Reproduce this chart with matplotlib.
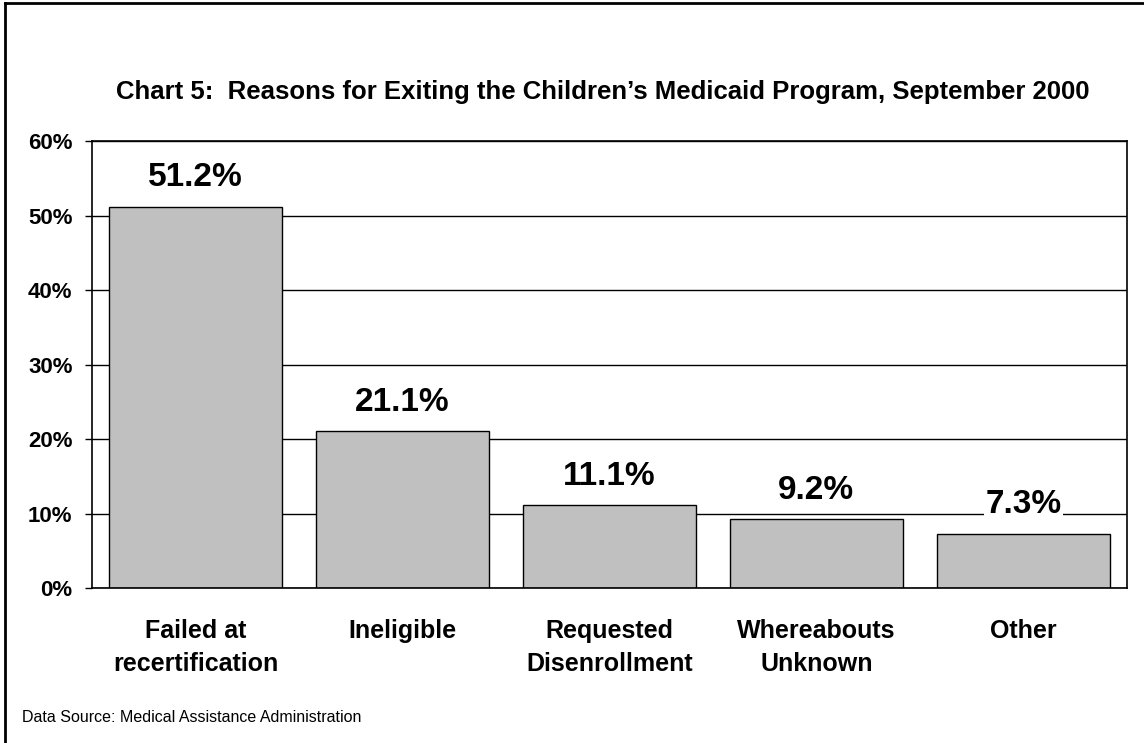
import matplotlib
matplotlib.use("Agg")
import matplotlib.pyplot as plt
from matplotlib.lines import Line2D
import numpy as np

plt.rcParams['font.family'] = ['Liberation Sans', 'DejaVu Sans']

categories = ["Failed at\nrecertification", "Ineligible", "Requested\nDisenrollment",
              "Whereabouts\nUnknown", "Other"]
values = [51.2, 21.1, 11.1, 9.2, 7.3]
yticks = [0, 10, 20, 30, 40, 50, 60]

fig = plt.figure(figsize=(11.44, 7.43), dpi=100)
ax = fig.add_axes([0.0804, 0.2086, 0.9046, 0.6016])

x = np.arange(len(categories))
ax.set_axisbelow(True)
ax.yaxis.grid(True, color='black', linewidth=1)
bars = ax.bar(x, values, width=0.836, color='#c0c0c0', edgecolor='black', linewidth=1)

for xi, v in zip(x, values):
    ax.annotate(f"{v:.1f}%", (xi, v), xytext=(0, 14.5), textcoords='offset points',
                ha='center', va='baseline', fontsize=24, fontweight='bold',
                bbox=dict(facecolor='white', edgecolor='none', pad=1))

ax.set_xlim(-0.5, len(categories) - 0.5)
ax.set_ylim(0, 60)
ax.set_yticks(yticks)
ax.set_yticklabels([f"{t}%" for t in yticks], fontsize=16, fontweight='bold')
ax.tick_params(axis='y', direction='out', length=5, width=1, pad=9)
ax.set_xticks([])
for s in ax.spines.values():
    s.set_linewidth(1.2)
    s.set_color('black')

# category labels under the bars
for xi, c in zip(x, categories):
    ax.annotate(c, (xi, 0), xytext=(0, -22), textcoords='offset points',
                ha='center', va='top', fontsize=18, fontweight='bold', linespacing=1.5)

fig.text(0.527, 1 - 92 / 743, "Chart 5:  Reasons for Exiting the Children\u2019s Medicaid Program, September 2000",
         ha='center', va='center', fontsize=18.5, fontweight='bold')
fig.text(22 / 1144, 1 - 718 / 743, "Data Source: Medical Assistance Administration",
         ha='left', va='center', fontsize=11.5)

# frame edges around the chart
fig.add_artist(Line2D([5 / 1144, 5 / 1144], [0, 1 - 3 / 743], color='black', linewidth=2))
fig.add_artist(Line2D([5 / 1144, 1], [1 - 3 / 743, 1 - 3 / 743], color='black', linewidth=2))

fig.savefig("out.png", dpi=100)
